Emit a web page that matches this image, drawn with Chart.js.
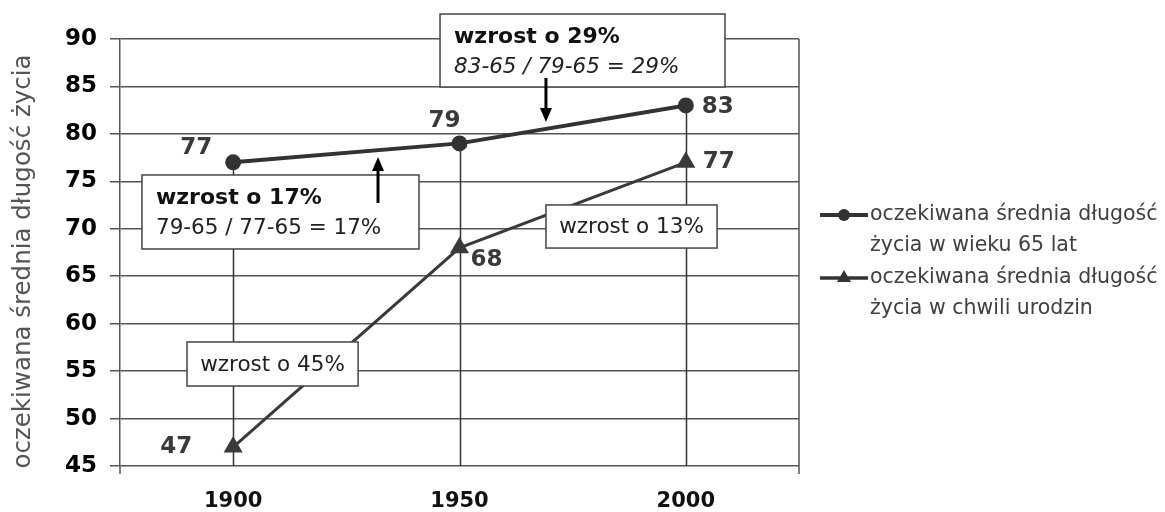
<!DOCTYPE html>
<html>
<head>
<meta charset="utf-8">
<script src="https://cdn.jsdelivr.net/npm/chart.js@4"></script>
<style>
  body { margin: 0; background: #fff; }
  #wrap { width: 1165px; height: 512px; position: relative; }
</style>
</head>
<body>
<div id="wrap"><canvas id="wykres"></canvas></div>
<script>
// dane
const lata = ['1900', '1950', '2000'];
const wieku65 = [77, 79, 83];
const urodzenie = [47, 68, 77];
const yMin = 45, yMax = 90, yKrok = 5;
const nazwy = [
  ['oczekiwana średnia długość', 'życia w wieku 65 lat'],
  ['oczekiwana średnia długość', 'życia w chwili urodzin']
];
const tytulY = 'oczekiwana średnia długość życia';

// ramki z opisami (pozycje w jednostkach osi: x = indeks kategorii, y = lata)
const ramki = [
  { x1: 0.914, x2: 2.173, y1: 92.63, y2: 84.94, linie: [['wzrost o 29%', 'bold'], ['83-65 / 79-65 = 29%', 'italic']] },
  { x1: -0.403, x2: 0.821, y1: 75.67, y2: 67.87, linie: [['wzrost o 17%', 'bold'], ['79-65 / 77-65 = 17%', 'normal']] },
  { x1: 1.382, x2: 2.138, y1: 72.51, y2: 67.97, linie: [['wzrost o 13%', 'normal']], srodek: true },
  { x1: -0.204, x2: 0.552, y1: 58.07, y2: 53.43, linie: [['wzrost o 45%', 'normal']], srodek: true }
];
const strzalki = [
  { x: 0.640, od: 72.72, do: 77.56 },
  { x: 1.382, od: 85.89, do: 81.25 }
];
// przesuniecia etykiet wartosci (px)
const przes = [
  [[-37, -14], [-15, -22], [32, 2]],
  [[-57, 0], [27, 12], [33, 0]]
];

const FONT = '"DejaVu Sans", Verdana, sans-serif';
const CIEMNY = '#333333';

const dodatki = {
  id: 'dodatki',
  beforeDatasetsDraw(chart) {
    const { ctx, chartArea: a, scales: { x, y } } = chart;
    ctx.save();
    // linie spadku od punktow serii gornej do osi
    ctx.strokeStyle = CIEMNY;
    ctx.lineWidth = 1.5;
    wieku65.forEach((v, i) => {
      const px = Math.round(x.getPixelForValue(i)) + 0.5;
      ctx.beginPath();
      ctx.moveTo(px, y.getPixelForValue(v));
      ctx.lineTo(px, a.bottom);
      ctx.stroke();
    });
    // prawa krawedz i kreski pod osia
    ctx.strokeStyle = '#555';
    ctx.beginPath();
    ctx.moveTo(a.right, a.top);
    ctx.lineTo(a.right, a.bottom + 8);
    ctx.moveTo(a.left, a.bottom);
    ctx.lineTo(a.left, a.bottom + 8);
    ctx.stroke();
    ctx.restore();
  },
  afterDatasetsDraw(chart) {
    const { ctx, scales: { x, y } } = chart;
    ctx.save();
    // ramki
    ramki.forEach(r => {
      const L = x.getPixelForValue(r.x1), R = x.getPixelForValue(r.x2);
      const T = y.getPixelForValue(r.y1), B = y.getPixelForValue(r.y2);
      ctx.fillStyle = '#fff';
      ctx.fillRect(L, T, R - L, B - T);
      ctx.strokeStyle = '#444';
      ctx.lineWidth = 1.5;
      ctx.strokeRect(L, T, R - L, B - T);
      ctx.textBaseline = 'middle';
      r.linie.forEach((ln, k) => {
        const styl = ln[1];
        ctx.font = styl === 'bold' ? 'bold 22px ' + FONT : (styl === 'italic' ? 'italic ' : '') + '21.5px ' + FONT;
        ctx.fillStyle = styl === 'bold' ? '#111' : '#222';
        if (r.srodek) {
          ctx.textAlign = 'center';
          ctx.fillText(ln[0], (L + R) / 2, (T + B) / 2 + 1);
        } else {
          ctx.textAlign = 'left';
          ctx.fillText(ln[0], L + 14, T + 23 + k * 30);
        }
      });
    });
    // strzalki
    ctx.strokeStyle = '#000';
    ctx.fillStyle = '#000';
    ctx.lineWidth = 3;
    strzalki.forEach(s => {
      const px = x.getPixelForValue(s.x);
      const p0 = y.getPixelForValue(s.od), p1 = y.getPixelForValue(s.do);
      const dir = p1 < p0 ? -1 : 1;
      ctx.beginPath();
      ctx.moveTo(px, p0);
      ctx.lineTo(px, p1 - dir * 12);
      ctx.stroke();
      ctx.beginPath();
      ctx.moveTo(px, p1);
      ctx.lineTo(px - 6, p1 - dir * 14);
      ctx.lineTo(px + 6, p1 - dir * 14);
      ctx.closePath();
      ctx.fill();
    });
    // etykiety wartosci
    ctx.font = 'bold 23px ' + FONT;
    ctx.fillStyle = '#3a3a3a';
    ctx.textAlign = 'center';
    ctx.textBaseline = 'middle';
    chart.data.datasets.forEach((ds, d) => {
      chart.getDatasetMeta(d).data.forEach((pt, i) => {
        ctx.fillText(String(ds.data[i]), pt.x + przes[d][i][0], pt.y + przes[d][i][1]);
      });
    });
    ctx.restore();
  },
  afterDraw(chart) {
    const { ctx, chartArea: a } = chart;
    ctx.save();
    // tytul osi Y
    ctx.translate(24, (a.top + a.bottom) / 2 + 9);
    ctx.rotate(-Math.PI / 2);
    ctx.font = '24.5px ' + FONT;
    ctx.fillStyle = '#555';
    ctx.textAlign = 'center';
    ctx.textBaseline = 'middle';
    ctx.fillText(tytulY, 0, 0);
    ctx.restore();

    // legenda po prawej
    ctx.save();
    const x0 = a.right + 21, ys = [215, 278];
    nazwy.forEach((linie, d) => {
      const ly = ys[d];
      ctx.strokeStyle = CIEMNY;
      ctx.fillStyle = CIEMNY;
      ctx.lineWidth = d === 0 ? 4 : 3.5;
      ctx.beginPath();
      ctx.moveTo(x0, ly);
      ctx.lineTo(x0 + 48, ly);
      ctx.stroke();
      if (d === 0) {
        ctx.beginPath();
        ctx.arc(x0 + 24, ly, 6, 0, Math.PI * 2);
        ctx.fill();
      } else {
        ctx.beginPath();
        ctx.moveTo(x0 + 24, ly - 8);
        ctx.lineTo(x0 + 31, ly + 4);
        ctx.lineTo(x0 + 17, ly + 4);
        ctx.closePath();
        ctx.fill();
      }
      ctx.font = '20.5px ' + FONT;
      ctx.fillStyle = '#404040';
      ctx.textAlign = 'left';
      ctx.textBaseline = 'middle';
      linie.forEach((t, k) => ctx.fillText(t, x0 + 50, ly + k * 31));
    });
    ctx.restore();
  }
};

new Chart(document.getElementById('wykres'), {
  type: 'line',
  data: {
    labels: lata,
    datasets: [{
      label: nazwy[0].join(' '),
      data: wieku65,
      borderColor: CIEMNY,
      backgroundColor: CIEMNY,
      borderWidth: 4,
      pointStyle: 'circle',
      pointRadius: 6,
      pointHoverRadius: 6
    }, {
      label: nazwy[1].join(' '),
      data: urodzenie,
      borderColor: '#3a3a3a',
      backgroundColor: '#3a3a3a',
      borderWidth: 3,
      pointStyle: 'triangle',
      pointRadius: 8,
      pointHoverRadius: 8
    }]
  },
  options: {
    responsive: true,
    maintainAspectRatio: false,
    animation: false,
    events: [],
    layout: { padding: { left: 0, top: 39, right: 366, bottom: 0 } },
    plugins: { legend: { display: false }, tooltip: { enabled: false } },
    scales: {
      x: {
        offset: true,
        grid: { display: false, drawTicks: false },
        border: { display: false },
        ticks: { color: '#111', font: { family: FONT, size: 21, weight: 'bold' }, padding: 23 },
        afterFit: s => { s.height = 46; }
      },
      y: {
        min: yMin,
        max: yMax,
        ticks: { stepSize: yKrok, color: '#000', font: { family: FONT, size: 23, weight: 'bold' }, padding: 13 },
        grid: { color: '#555', lineWidth: 1.5, tickLength: 10 },
        border: { color: '#555', width: 1.5 },
        afterFit: s => { s.width = 120; }
      }
    }
  },
  plugins: [dodatki]
});
</script>
</body>
</html>
